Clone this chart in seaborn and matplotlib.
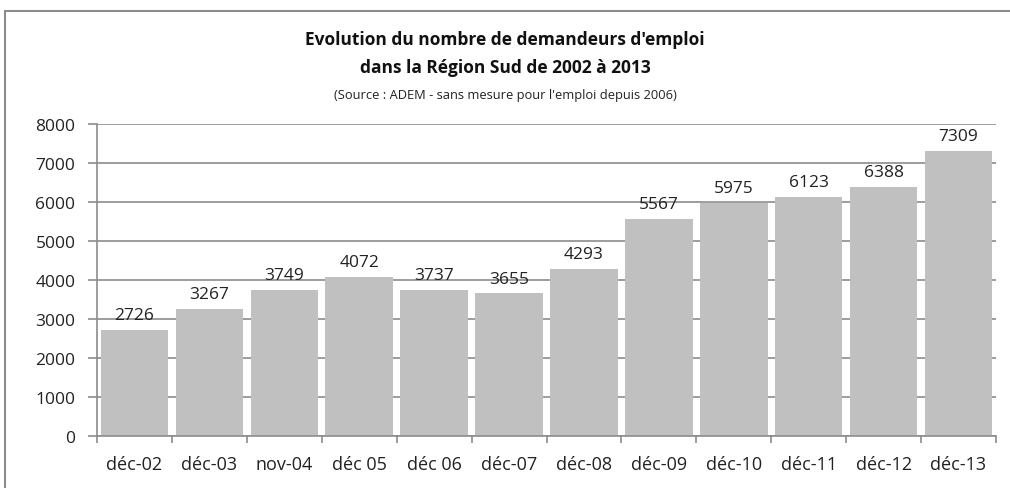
import matplotlib
matplotlib.use("Agg")
import matplotlib.pyplot as plt
import seaborn as sns
import pandas as pd
from matplotlib.lines import Line2D

categories = ["déc-02", "déc-03", "nov-04", "déc 05", "déc 06", "déc-07",
              "déc-08", "déc-09", "déc-10", "déc-11", "déc-12", "déc-13"]
values = [2726, 3267, 3749, 4072, 3737, 3655, 4293, 5567, 5975, 6123, 6388, 7309]
yticks = [0, 1000, 2000, 3000, 4000, 5000, 6000, 7000, 8000]

sns.set_theme(style="white")
plt.rcParams['font.family'] = ['Open Sans', 'DejaVu Sans']

df = pd.DataFrame({"cat": categories, "val": values})

fig = plt.figure(figsize=(10.10, 4.89), dpi=100)
ax = fig.add_axes([97/1010, 1-437/489, (996-97)/1010, (437-125)/489])

sns.barplot(data=df, x="cat", y="val", color="#c0c0c0", saturation=1,
            width=0.9, ax=ax, zorder=2)
for p in ax.patches:
    p.set_edgecolor("none")

ax.set_ylim(0, 8000)
ax.set_xlim(-0.5, len(categories) - 0.5)
ax.set_yticks(yticks)
ax.set_yticklabels([str(t) for t in yticks], fontsize=12.5, color="#222222")
ax.yaxis.grid(True, color="#8c8c8c", linewidth=1.2, zorder=0)
ax.set_axisbelow(True)
ax.set_xlabel("")
ax.set_ylabel("")
ax.tick_params(axis="x", which="major", length=0, labelsize=13,
               labelcolor="#222222", pad=14)
ax.set_xticks(range(len(categories)))
ax.set_xticklabels(categories)
ax.set_xticks([i - 0.5 for i in range(len(categories) + 1)], minor=True)
ax.tick_params(axis="x", which="minor", length=5, width=1.2, color="#8c8c8c",
               direction="out", bottom=True)
ax.tick_params(axis="y", length=6.5, width=1.2, color="#8c8c8c",
               direction="out", left=True, pad=9)

for s in ["top", "right"]:
    ax.spines[s].set_visible(False)
for s in ["left", "bottom"]:
    ax.spines[s].set_color("#8c8c8c")
    ax.spines[s].set_linewidth(1.2)

for i, v in enumerate(values):
    ax.annotate(str(v), (i, v), xytext=(0, 5), textcoords="offset points",
                ha="center", va="bottom", fontsize=12.5, color="#222222")

fig.text(0.5, 1-40/489, "Evolution du nombre de demandeurs d'emploi",
         ha="center", va="center", fontsize=12.5, fontweight="bold", color="#111111")
fig.text(0.5, 1-68/489, "dans la Région Sud de 2002 à 2013",
         ha="center", va="center", fontsize=12.5, fontweight="bold", color="#111111")
fig.text(0.5, 1-95/489, "(Source : ADEM - sans mesure pour l'emploi depuis 2006)",
         ha="center", va="center", fontsize=9.3, color="#222222")

# outer frame (left and top)
fig.add_artist(Line2D([5/1010, 5/1010], [0, 1-12/489], transform=fig.transFigure,
                      color="#8c8c8c", linewidth=1.5))
fig.add_artist(Line2D([5/1010, 1], [1-12/489, 1-12/489], transform=fig.transFigure,
                      color="#8c8c8c", linewidth=1.5))

fig.savefig("out.png", dpi=100)
